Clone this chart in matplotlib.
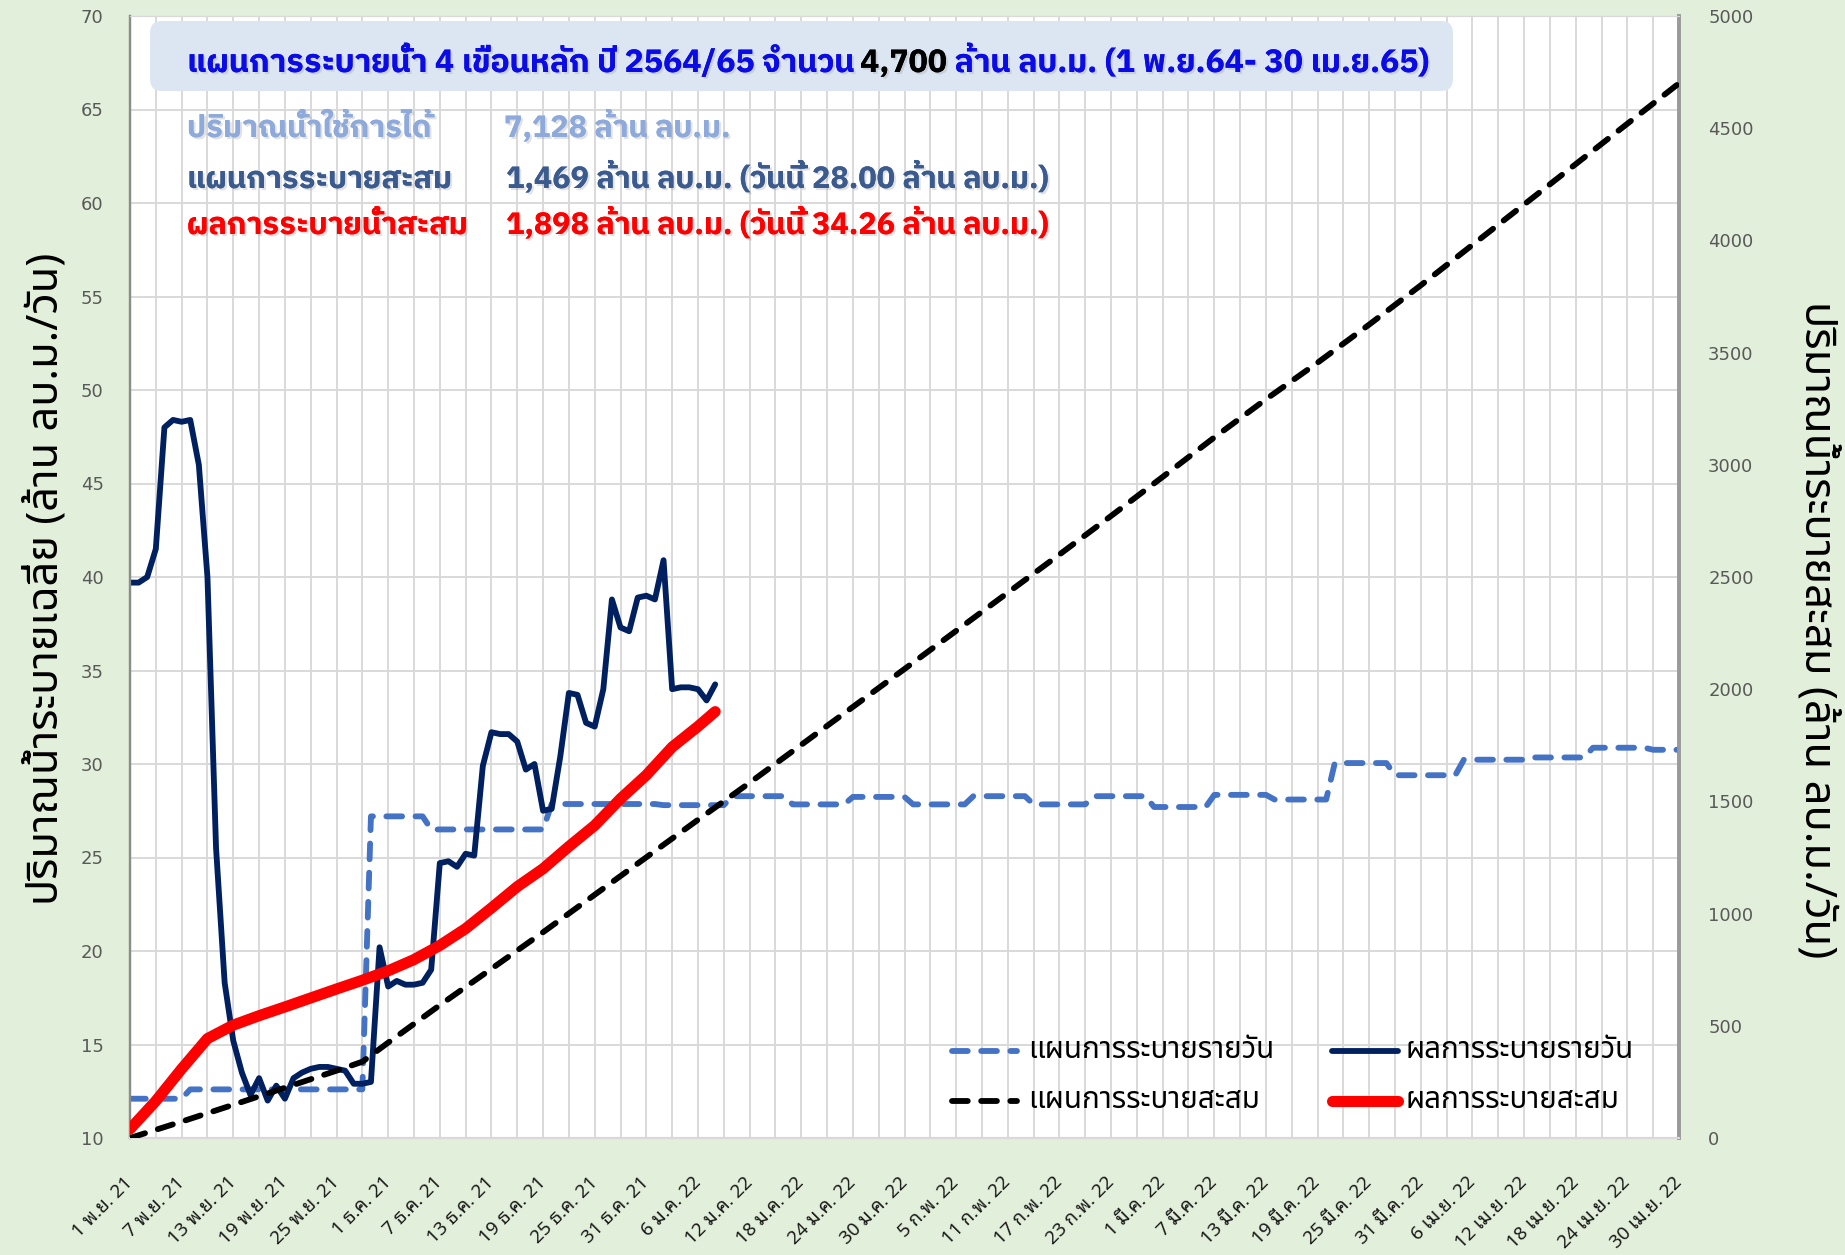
import numpy as np
import matplotlib
matplotlib.use("Agg")
import matplotlib.pyplot as plt
from matplotlib import font_manager as fm
from matplotlib.ft2font import FT2Font
from matplotlib.lines import Line2D
from matplotlib.patches import FancyBboxPatch
from matplotlib.transforms import IdentityTransform
import matplotlib.patheffects as pe

# ---------------- data ----------------
x_tick_days = list(range(0, 181, 6))
x_tick_labels = ["1 พ.ย. 21", "7 พ.ย. 21", "13 พ.ย. 21", "19 พ.ย. 21", "25 พ.ย. 21",
                 "1 ธ.ค. 21", "7 ธ.ค. 21", "13 ธ.ค. 21", "19 ธ.ค. 21", "25 ธ.ค. 21",
                 "31 ธ.ค. 21", "6 ม.ค. 22", "12 ม.ค. 22", "18 ม.ค. 22", "24 ม.ค. 22",
                 "30 ม.ค. 22", "5 ก.พ. 22", "11 ก.พ. 22", "17 ก.พ. 22", "23 ก.พ. 22",
                 "1 มี.ค. 22", "7 มี.ค. 22", "13 มี.ค. 22", "19 มี.ค. 22", "25 มี.ค. 22",
                 "31 มี.ค. 22", "6 เม.ย. 22", "12 เม.ย. 22", "18 เม.ย. 22", "24 เม.ย. 22",
                 "30 เม.ย. 22"]

# actual daily release (million m3/day), day 0 = 1 Nov 2021
actual_daily = [39.7, 39.7, 40.0, 41.5, 48.0, 48.4, 48.3, 48.4, 46.0, 40.0,
                25.5, 18.3, 15.2, 13.5, 12.3, 13.2, 12.0, 12.8, 12.1, 13.2,
                13.5, 13.7, 13.8, 13.8, 13.7, 13.6, 12.9, 12.9, 13.0, 20.2,
                18.1, 18.4, 18.2, 18.2, 18.3, 19.0, 24.7, 24.8, 24.5, 25.2,
                25.1, 29.9, 31.7, 31.6, 31.6, 31.2, 29.7, 30.0, 27.5, 27.6,
                30.4, 33.8, 33.7, 32.2, 32.0, 34.0, 38.8, 37.3, 37.1, 38.9,
                39.0, 38.8, 40.9, 34.0, 34.1, 34.1, 34.0, 33.4, 34.26]

# actual cumulative release (million m3)
actual_cum_days = [0, 3, 6, 9, 12, 15, 18, 21, 24, 27, 30, 33, 36, 39, 42, 45,
                   48, 51, 54, 57, 60, 63, 66, 68]
actual_cum = [40, 165, 308, 443, 503, 545, 584, 624, 664, 703, 745, 795, 858,
              933, 1025, 1120, 1200, 1299, 1393, 1512, 1617, 1742, 1834, 1900]

# planned daily release (corner points of the step line)
plan_daily_days = [0, 6, 7, 27, 28, 34, 35, 48, 49, 61, 62, 69, 70, 76, 77, 83, 84,
                   90, 91, 97, 98, 104, 105, 111, 112, 118, 119, 125, 126, 132,
                   133, 139, 140, 146, 147, 154, 155, 162, 163, 169, 170, 176, 177, 180]
plan_daily = [12.1, 12.1, 12.6, 12.6, 27.2, 27.2, 26.5, 26.5, 27.86, 27.86, 27.8,
              27.8, 28.28, 28.28, 27.84, 27.84, 28.24, 28.24, 27.84, 27.84, 28.28,
              28.28, 27.84, 27.84, 28.28, 28.28, 27.7, 27.7, 28.35, 28.35, 28.1,
              28.1, 30.05, 30.05, 29.4, 29.4, 30.23, 30.23, 30.35, 30.35, 30.87,
              30.87, 30.76, 30.76]

# planned cumulative release (million m3)
plan_cum_days = [0, 6, 12, 18, 24, 27, 30, 36, 42, 48, 54, 60, 66, 72, 78, 84, 90,
                 96, 102, 108, 114, 120, 126, 132, 138, 144, 150, 156, 162, 168,
                 174, 180]
plan_cum = [0, 73, 148, 224, 300, 340, 425, 592, 754, 917, 1084, 1251, 1418,
            1583, 1752, 1921, 2090, 2260, 2430, 2600, 2772, 2946, 3122, 3292,
            3455, 3625, 3800, 3980, 4160, 4340, 4520, 4700]

legend_labels = ["แผนการระบายรายวัน", "ผลการระบายรายวัน",
                 "แผนการระบายสะสม", "ผลการระบายสะสม"]
title_parts = ["แผนการระบายน้ำ 4 เขื่อนหลัก ปี 2564/65 จำนวน", "4,700",
               "ล้าน ลบ.ม. (1 พ.ย.64- 30 เม.ย.65)"]
info_labels = ["ปริมาณน้ำใช้การได้", "แผนการระบายสะสม", "ผลการระบายน้ำสะสม"]
info_values = ["7,128 ล้าน ลบ.ม.", "1,469 ล้าน ลบ.ม. (วันนี้ 28.00 ล้าน ลบ.ม.)",
               "1,898 ล้าน ลบ.ม. (วันนี้ 34.26 ล้าน ลบ.ม.)"]
ylabel_left = "ปริมาณน้ำระบายเฉลี่ย (ล้าน ลบ.ม./วัน)"
ylabel_right = "ปริมาณน้ำระบายสะสม (ล้าน ลบ.ม./วัน)"

# ---------------- fonts (Thai-capable families, found at run time) ----------------
def thai_families():
    fams = {}
    for fe in fm.fontManager.ttflist:
        try:
            cm = FT2Font(fe.fname).get_charmap()
        except Exception:
            continue
        if 0x0E01 in cm and 0x0E49 in cm and 0x0E33 in cm:
            w = fe.weight if isinstance(fe.weight, int) else 400
            fams.setdefault(fe.name, set()).add(w)
    return fams

fams = thai_families()

def pick(prefs, need_bold=False):
    for p in prefs:
        if p in fams and (not need_bold or max(fams[p]) >= 600):
            return p
    for p in sorted(fams):
        if not need_bold or max(fams[p]) >= 600:
            return p
    return None

reg_pref = ["Noto Sans Thai", "Noto Sans Thai UI", "IBM Plex Sans Thai", "Anuphan", "Sarabun"]
bold_pref = ["IBM Plex Sans Thai", "Noto Sans Thai", "Anuphan", "Kanit", "Sarabun",
             "Prompt", "Bai Jamjuree"]
loop_pref = ["Noto Sans Thai Looped", "IBM Plex Sans Thai Looped", "Noto Sans Thai"]
th_reg = pick(reg_pref)
th_bold = pick(bold_pref, need_bold=True) or th_reg
th_loop = pick(loop_pref) or th_reg

def fam(name):
    return [name, "DejaVu Sans"] if name else ["DejaVu Sans"]

TH = fam(th_reg)
THB = fam(th_bold)
THL = fam(th_loop)
plt.rcParams["font.family"] = ["DejaVu Sans"]

# ---------------- figure ----------------
W, H = 1845, 1255
BG = "#e2efda"
fig = plt.figure(figsize=(W / 100, H / 100), dpi=100, facecolor=BG)
renderer = fig.canvas.get_renderer()

def fx(x):
    return x / W

def fy(y):
    return 1 - y / H

def text_w(s, size, **kw):
    t = fig.text(0, 0, s, fontsize=size, **kw)
    w = t.get_window_extent(renderer).width
    t.remove()
    return w

def fit(s, target, **kw):
    return 20 * target / text_w(s, 20, **kw)

L, R, T, B = 130, 1679, 16, 1138
ax = fig.add_axes([fx(L), fy(B), (R - L) / W, (B - T) / H])
ax.set_facecolor("white")
ax2 = ax.twinx()

GRID = "#d9d9d9"
ax.set_xlim(0, 180)
ax.set_ylim(10, 70)
ax2.set_ylim(0, 5000)
ax.set_yticks(np.arange(10, 71, 5))
ax2.set_yticks(np.arange(0, 5001, 500))
ax.set_xticks(x_tick_days)
ax.set_xticks(np.arange(0, 181, 3), minor=True)
ax.grid(True, which="both", axis="x", color=GRID, lw=1.4)
ax.grid(True, which="major", axis="y", color=GRID, lw=1.4)
ax.set_axisbelow(True)

tick_col = "#595959"
ax.tick_params(axis="y", length=0, pad=19, labelsize=13, labelcolor=tick_col)
ax2.tick_params(axis="y", length=0, pad=21, labelsize=13, labelcolor=tick_col)
ax.tick_params(axis="x", which="both", length=0)

xfs = fit("7 พ.ย. 21", 77, family=THL)
ax.set_xticklabels(x_tick_labels, rotation=45, ha="right", va="center",
                   rotation_mode="anchor", family=THL, fontsize=xfs, color="#1a1a1a")
ax.tick_params(axis="x", pad=30)

for a in (ax, ax2):
    a.spines["top"].set_color(GRID)
    a.spines["bottom"].set_color(GRID)
    a.spines["bottom"].set_linewidth(1.5)
    a.spines["left"].set_color("#8c8c8c")
    a.spines["left"].set_linewidth(1.6)
    a.spines["right"].set_color("#9a9a9a")
    a.spines["right"].set_linewidth(2.6)

# ---------------- series ----------------
DASH = (2.7, 2.3)
LW_THIN = 4.2
LW_RED = 8.0
ax.plot(plan_daily_days, plan_daily, color="#4472c4", lw=LW_THIN, dashes=DASH,
        dash_capstyle="round", zorder=3)
ax.plot(range(len(actual_daily)), actual_daily, color="#002060", lw=LW_THIN,
        solid_capstyle="round", solid_joinstyle="round", zorder=4)
ax2.plot(plan_cum_days, plan_cum, color="black", lw=LW_THIN, dashes=DASH,
         dash_capstyle="round", zorder=3)
ax2.plot(actual_cum_days, actual_cum, color="#ff0000", lw=LW_RED,
         solid_capstyle="round", solid_joinstyle="round", zorder=5)

# ---------------- axis titles ----------------
lfs = fit(ylabel_left, 653, family=TH)
fig.text(fx(47), fy(579), ylabel_left, rotation=90, ha="center", va="center",
         family=TH, fontsize=lfs, color="black")
rfs = fit(ylabel_right, 659, family=TH)
fig.text(fx(1816), fy(630), ylabel_right, rotation=270, ha="center", va="center",
         family=TH, fontsize=rfs, color="black")

# ---------------- title box and info lines ----------------
box = FancyBboxPatch((150, H - 91), 1303, 70, boxstyle="round,pad=0,rounding_size=12",
                     transform=IdentityTransform(), facecolor="#dce6f2",
                     edgecolor="none", zorder=2)
fig.add_artist(box)

shadow = [pe.withSimplePatchShadow(offset=(1.5, -1.5), shadow_rgbFace="#7f7f7f",
                                   alpha=0.22), pe.Normal()]
title_cols = ["#0b0be6", "black", "#0b0be6"]
full_title = " ".join(title_parts)
tfs = fit(full_title, 1243, family=THB, weight="bold")
sp = text_w("a a", tfs, family=THB, weight="bold") - text_w("aa", tfs, family=THB, weight="bold")
x0 = 187
for s, c in zip(title_parts, title_cols):
    t = fig.text(fx(x0), fy(72), s, ha="left", va="baseline", family=THB,
                 weight="bold", fontsize=tfs, color=c, path_effects=shadow, zorder=5)
    x0 = t.get_window_extent(renderer).x1 + sp

info_cols = ["#8eaadb", "#3b5b8f", "#ff0000"]
info_base = [137, 188, 234]
val_x = [504, 506, 506]
ifs = fit(info_values[1], 542, family=THB, weight="bold")
for lab, val, c, yb, vx in zip(info_labels, info_values, info_cols, info_base, val_x):
    fig.text(fx(187), fy(yb), lab, ha="left", va="baseline", family=THB, weight="bold",
             fontsize=ifs, color=c, path_effects=shadow, zorder=5)
    fig.text(fx(vx), fy(yb), val, ha="left", va="baseline", family=THB, weight="bold",
             fontsize=ifs, color=c, path_effects=shadow, zorder=5)

# ---------------- legend ----------------
leg_fs = fit(legend_labels[0], 246, family=TH)
leg_styles = [dict(color="#4472c4", lw=LW_THIN, dashes=DASH, dash_capstyle="round"),
              dict(color="#002060", lw=LW_THIN, solid_capstyle="round"),
              dict(color="black", lw=LW_THIN, dashes=DASH, dash_capstyle="round"),
              dict(color="#ff0000", lw=LW_RED, solid_capstyle="round")]
leg_pos = [(952, 1017, 1028, 1051), (1332, 1398, 1406, 1051),
           (952, 1017, 1028, 1101), (1332, 1398, 1406, 1101)]
for lab, st, (h0, h1, tx, yy) in zip(legend_labels, leg_styles, leg_pos):
    fig.add_artist(Line2D([h0, h1], [H - yy, H - yy], transform=IdentityTransform(),
                          zorder=6, **st))
    fig.text(fx(tx), fy(yy), lab, ha="left", va="center", family=TH,
             fontsize=leg_fs, color="black", zorder=6)

fig.savefig("out.png", dpi=100, facecolor=BG)
